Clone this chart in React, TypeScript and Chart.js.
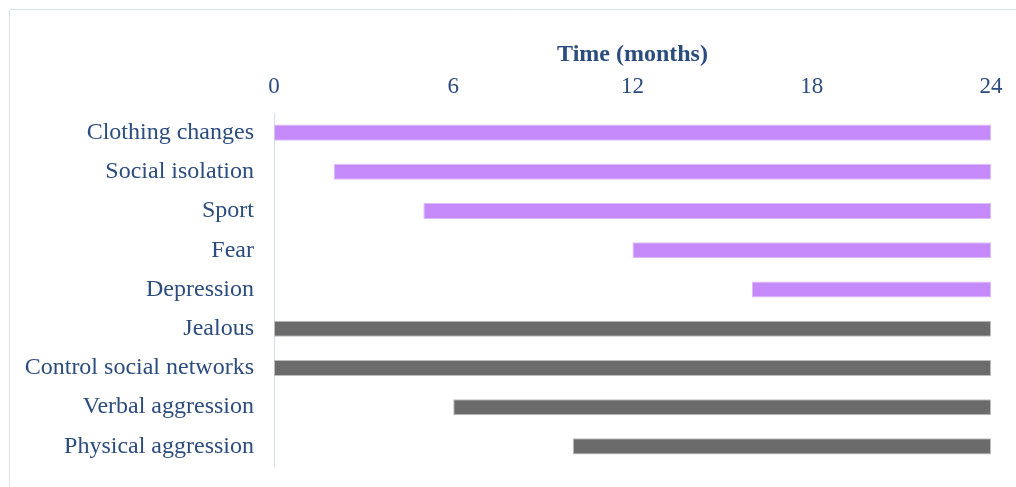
import React, { useEffect, useRef } from "react";
import { Chart, registerables } from "chart.js";

Chart.register(...registerables);

const categories = [
  "Clothing changes",
  "Social isolation",
  "Sport",
  "Fear",
  "Depression",
  "Jealous",
  "Control social networks",
  "Verbal aggression",
  "Physical aggression",
];
const startMonths = [0, 2, 5, 12, 16, 0, 0, 6, 10];
const endMonths = [24, 24, 24, 24, 24, 24, 24, 24, 24];
const groups = ["victim", "victim", "victim", "victim", "victim", "aggressor", "aggressor", "aggressor", "aggressor"];
const axisTicks = [0, 6, 12, 18, 24];

const FILL = { victim: "#c589f9", aggressor: "#6b6b6b" };
const EDGE = { victim: "#dcbcfb", aggressor: "#bdbdbd" };
const TEXT = "#2b4c7e";
const FONT = "'Liberation Serif', 'Times New Roman', serif";

const frame = {
  id: "frame",
  beforeDraw(chart: any) {
    const { ctx, width, height } = chart;
    ctx.save();
    ctx.fillStyle = "#ffffff";
    ctx.fillRect(0, 0, width, height);
    ctx.strokeStyle = "#d6e2f2";
    ctx.lineWidth = 1;
    ctx.beginPath();
    ctx.moveTo(9.5, height);
    ctx.lineTo(9.5, 9.5);
    ctx.lineTo(width, 9.5);
    ctx.stroke();
    ctx.restore();
  },
};

export default function App() {
  const ref = useRef<HTMLCanvasElement>(null);

  useEffect(() => {
    if (!ref.current) return;
    const chart = new Chart(ref.current, {
      type: "bar",
      data: {
        labels: categories,
        datasets: [
          {
            data: categories.map((_, i) => [startMonths[i], endMonths[i]]) as any,
            backgroundColor: groups.map((g) => FILL[g as keyof typeof FILL]),
            borderColor: groups.map((g) => EDGE[g as keyof typeof EDGE]),
            borderWidth: 1,
            borderSkipped: false,
            categoryPercentage: 1,
            barPercentage: 0.41,
          },
        ],
      },
      options: {
        indexAxis: "y",
        animation: false,
        responsive: false,
        layout: { padding: { top: 40, right: 25, bottom: 21, left: 0 } },
        plugins: { legend: { display: false }, tooltip: { enabled: false } },
        scales: {
          x: {
            position: "top",
            min: 0,
            max: 24,
            afterBuildTicks: (scale: any) => {
              scale.ticks = axisTicks.map((v) => ({ value: v }));
            },
            afterFit: (scale: any) => {
              scale.height = 73;
            },
            grid: { display: false, drawTicks: false },
            border: { display: false },
            ticks: { color: TEXT, font: { family: FONT, size: 23 }, padding: 12 },
            title: {
              display: true,
              text: "Time (months)",
              color: TEXT,
              font: { family: FONT, size: 24, weight: "bold" },
              padding: { top: 0, bottom: 5 },
            },
          },
          y: {
            grid: { display: false, drawTicks: false },
            border: { display: true, color: "#d3e0f1", width: 1 },
            ticks: { color: TEXT, font: { family: FONT, size: 24 }, padding: 20 },
            afterFit: (scale: any) => {
              scale.width = 274;
              scale.paddingTop = 0;
              scale.paddingBottom = 0;
            },
          },
        },
      },
      plugins: [frame],
    });
    return () => chart.destroy();
  }, []);

  return (
    <div style={{ position: "fixed", left: 0, top: 0, width: 1016, height: 487 }}>
      <canvas ref={ref} width={1016} height={487} style={{ display: "block" }} />
    </div>
  );
}
